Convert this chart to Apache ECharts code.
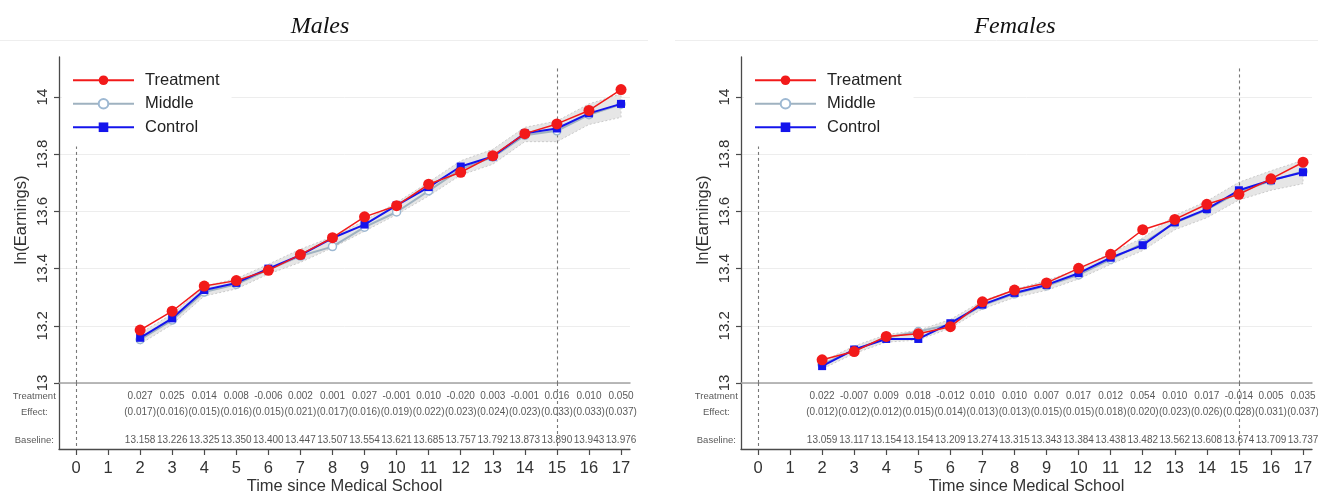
<!DOCTYPE html>
<html><head><meta charset="utf-8">
<script src="https://cdn.jsdelivr.net/npm/echarts@6/dist/echarts.min.js"></script>
<style>html,body{margin:0;padding:0;background:#fff}#c{width:1318px;height:493px}</style>
</head><body><div id="c"></div>
<script>
// ---------------- data ----------------
const years = [2,3,4,5,6,7,8,9,10,11,12,13,14,15,16,17];
const xTicks = [0,1,2,3,4,5,6,7,8,9,10,11,12,13,14,15,16,17];
const yTicks = [13,13.2,13.4,13.6,13.8,14];
const panelTitles = ['Males','Females'];
const seriesNames = ['Treatment','Middle','Control'];
const rowHeaders = ['Treatment\nEffect:','Baseline:'];
const refLineX = [0, 15];
const refLineTop = [13.85, 14.10];

const maleBaseline  = [13.158,13.226,13.325,13.350,13.400,13.447,13.507,13.554,13.621,13.685,13.757,13.792,13.873,13.890,13.943,13.976];
const maleEffect    = [0.027,0.025,0.014,0.008,-0.006,0.002,0.001,0.027,-0.001,0.010,-0.020,0.003,-0.001,0.016,0.010,0.050];
const maleSE        = [0.017,0.016,0.015,0.016,0.015,0.021,0.017,0.016,0.019,0.022,0.023,0.024,0.023,0.033,0.033,0.037];
const maleTreatment = [13.185,13.251,13.339,13.358,13.394,13.449,13.508,13.581,13.620,13.695,13.737,13.795,13.872,13.906,13.953,14.026];
const maleMiddle    = [13.152,13.220,13.318,13.345,13.397,13.444,13.477,13.545,13.598,13.672,13.748,13.790,13.866,13.882,13.938,13.975];
const maleBandLow   = [13.136,13.205,13.304,13.329,13.381,13.422,13.473,13.531,13.589,13.654,13.727,13.765,13.844,13.844,13.904,13.929];
const maleBandHigh  = [13.174,13.241,13.338,13.365,13.415,13.468,13.511,13.567,13.631,13.702,13.777,13.817,13.894,13.916,13.976,14.011];

const femaleBaseline  = [13.059,13.117,13.154,13.154,13.209,13.274,13.315,13.343,13.384,13.438,13.482,13.562,13.608,13.674,13.709,13.737];
const femaleEffect    = [0.022,-0.007,0.009,0.018,-0.012,0.010,0.010,0.007,0.017,0.012,0.054,0.010,0.017,-0.014,0.005,0.035];
const femaleSE        = [0.012,0.012,0.012,0.015,0.014,0.013,0.013,0.015,0.015,0.018,0.020,0.023,0.026,0.028,0.031,0.037];
const femaleTreatment = [13.081,13.110,13.163,13.172,13.197,13.284,13.325,13.350,13.401,13.450,13.536,13.572,13.625,13.660,13.714,13.772];
const femaleMiddle    = [13.065,13.115,13.158,13.180,13.205,13.272,13.312,13.340,13.378,13.432,13.488,13.560,13.606,13.668,13.707,13.740];
const femaleBandLow   = [13.049,13.103,13.143,13.150,13.192,13.259,13.299,13.324,13.364,13.415,13.463,13.536,13.578,13.640,13.674,13.697];
const femaleBandHigh  = [13.075,13.129,13.169,13.184,13.222,13.287,13.327,13.358,13.398,13.455,13.507,13.586,13.636,13.702,13.742,13.779];

// ---------------- layout / style ----------------
const FONT = '"Liberation Sans", Arial, sans-serif';
const AXIS_COL = '#4a4a4a';
const panels = [
  {off: 0,   titleX: 320,  baseline: maleBaseline, effect: maleEffect, se: maleSE, treat: maleTreatment, mid: maleMiddle, lo: maleBandLow, hi: maleBandHigh},
  {off: 682, titleX: 1015, baseline: femaleBaseline, effect: femaleEffect, se: femaleSE, treat: femaleTreatment, mid: femaleMiddle, lo: femaleBandLow, hi: femaleBandHigh}
];
const X_MIN = -0.53, X_MAX = 17.28;
const ROW_EST = 0.8, ROW_SE = 1.75, ROW_HEAD = 1.275, ROW_BASE = 3.45;

const grid = [], xAxis = [], yAxis = [], series = [], legend = [], graphic = [];
const pairs = (ys) => years.map((x, i) => [x, ys[i]]);

panels.forEach((P, p) => {
  const gA = p * 2, gT = p * 2 + 1;
  grid.push({left: 59 + P.off, top: 57, width: 571, height: 326, outerBoundsMode: 'none'});
  grid.push({left: 59 + P.off, top: 383, width: 571, height: 66, outerBoundsMode: 'none'});

  xAxis.push({gridIndex: gA, type: 'value', min: X_MIN, max: X_MAX, position: 'bottom',
    axisLine: {show: true, onZero: false, lineStyle: {color: '#a3a3a3', width: 1.5}},
    axisTick: {show: false}, axisLabel: {show: false}, splitLine: {show: false}});
  xAxis.push({gridIndex: gT, type: 'value', min: X_MIN, max: X_MAX, position: 'bottom',
    axisLine: {show: true, onZero: false, lineStyle: {color: AXIS_COL, width: 1.3}},
    axisTick: {show: true, length: 6, customValues: xTicks, lineStyle: {color: AXIS_COL, width: 1.2}},
    axisLabel: {show: true, customValues: xTicks, fontSize: 16.5, fontFamily: FONT, color: '#333', margin: 11},
    splitLine: {show: false},
    name: 'Time since Medical School', nameLocation: 'middle', nameGap: 29,
    nameTextStyle: {fontSize: 16.5, fontFamily: FONT, color: '#333'}});

  yAxis.push({gridIndex: gA, type: 'value', min: 13, max: 14.14, interval: 0.2, position: 'left',
    axisLine: {show: true, onZero: false, lineStyle: {color: AXIS_COL, width: 1.3}},
    axisTick: {show: true, length: 5, customValues: yTicks, lineStyle: {color: AXIS_COL, width: 1.2}},
    axisLabel: {show: true, customValues: yTicks, rotate: 90, fontSize: 15, fontFamily: FONT, color: '#333', margin: 9,
      formatter: (v) => String(v)},
    splitLine: {show: true, lineStyle: {color: '#ededed', width: 1}},
    name: 'ln(Earnings)', nameLocation: 'middle', nameGap: 29,
    nameTextStyle: {fontSize: 16.5, fontFamily: FONT, color: '#333'}});
  yAxis.push({gridIndex: gT, type: 'value', min: 0, max: 4, inverse: true, position: 'left',
    axisLine: {show: true, onZero: false, lineStyle: {color: AXIS_COL, width: 1.3}},
    axisTick: {show: false}, axisLabel: {show: false}, splitLine: {show: false}});

  const ax = {xAxisIndex: gA, yAxisIndex: gA};
  const at = {xAxisIndex: gT, yAxisIndex: gT};

  // CI band (polygon through the axis scales)
  const lo = P.lo, hi = P.hi;
  series.push(Object.assign({type: 'custom', name: 'band', silent: true, z: 1,
    data: years.map((x, i) => [x, lo[i], hi[i]]),
    encode: {x: 0, y: [1, 2]},
    renderItem: (params, api) => {
      if (params.dataIndex !== 0) return null;
      const pts = [];
      years.forEach((x, i) => pts.push(api.coord([x, hi[i]])));
      for (let i = years.length - 1; i >= 0; i--) pts.push(api.coord([years[i], lo[i]]));
      return {type: 'polygon', shape: {points: pts},
        style: {fill: '#e6e6e6', stroke: '#cbcbcb', lineWidth: 1, lineDash: [2, 2]}};
    }}, ax));

  // Middle (carries the reference dashed lines in the upper part)
  series.push(Object.assign({type: 'line', name: 'Middle', data: pairs(P.mid), z: 3,
    symbol: 'circle', symbolSize: 8, showAllSymbol: true,
    itemStyle: {color: '#ffffff', borderColor: '#9db8d2', borderWidth: 1.5},
    lineStyle: {color: '#9fb2c0', width: 2},
    markLine: {silent: true, symbol: 'none', label: {show: false}, z: 2,
      lineStyle: {color: '#777', width: 1.1, type: [3, 3]},
      data: refLineX.map((x, i) => [{coord: [x, refLineTop[i]]}, {coord: [x, 13]}])}}, ax));
  series.push(Object.assign({type: 'line', name: 'Control', data: pairs(P.baseline), z: 4,
    symbol: 'rect', symbolSize: 8, showAllSymbol: true,
    itemStyle: {color: '#1414ec'}, lineStyle: {color: '#1414ec', width: 2}}, ax));
  series.push(Object.assign({type: 'line', name: 'Treatment', data: pairs(P.treat), z: 5,
    symbol: 'circle', symbolSize: 11, showAllSymbol: true,
    itemStyle: {color: '#f21a1a'}, lineStyle: {color: '#f21a1a', width: 1.5}}, ax));

  // table rows
  const lbl = {show: true, position: 'inside', formatter: '{b}', fontSize: 10, fontFamily: FONT, color: '#2e2e2e', lineHeight: 16};
  const rowSeries = (items) => Object.assign({type: 'scatter', symbolSize: 1, silent: true, clip: false,
    itemStyle: {color: 'rgba(0,0,0,0)'}, label: lbl, data: items}, at);
  series.push(rowSeries(years.map((x, i) => ({name: P.effect[i].toFixed(3), value: [x, ROW_EST]}))));
  series.push(rowSeries(years.map((x, i) => ({name: '(' + P.se[i].toFixed(3) + ')', value: [x, ROW_SE]}))));
  series.push(rowSeries(years.map((x, i) => ({name: P.baseline[i].toFixed(3), value: [x, ROW_BASE]}))));
  const head = rowSeries([{name: rowHeaders[0], value: [-1.3, ROW_HEAD]}, {name: rowHeaders[1], value: [-1.3, ROW_BASE]}]);
  head.label = Object.assign({}, lbl, {fontSize: 9.5});
  head.markLine = {silent: true, symbol: 'none', label: {show: false},
    lineStyle: {color: '#777', width: 1.1, type: [3, 3]},
    data: refLineX.map((x) => ({xAxis: x}))};
  series.push(head);

  legend.push({data: seriesNames, orient: 'vertical', left: 62 + P.off, top: 61,
    itemWidth: 61, itemHeight: 12, itemGap: 5, backgroundColor: '#ffffff',
    padding: [10, 12, 10, 10], z: 6, selectedMode: false,
    textStyle: {fontSize: 16.5, lineHeight: 18.5, fontFamily: FONT, color: '#222', padding: [0, 0, 0, 6]}});

  graphic.push({type: 'line', silent: true, z: 0,
    shape: {x1: p === 0 ? 0 : 675, y1: 40.5, x2: p === 0 ? 648 : 1318, y2: 40.5},
    style: {stroke: '#eeeeee', lineWidth: 1}});
  graphic.push({type: 'text', silent: true, x: P.titleX, y: 27,
    style: {text: panelTitles[p], align: 'center', verticalAlign: 'middle',
      fontFamily: '"Liberation Serif", "Times New Roman", serif', fontStyle: 'italic', fontSize: 24, fill: '#111'}});
});

const chart = echarts.init(document.getElementById('c'), null, {renderer: 'canvas'});
chart.setOption({backgroundColor: '#ffffff', animation: false, grid, xAxis, yAxis, series, legend, graphic});
</script></body></html>
